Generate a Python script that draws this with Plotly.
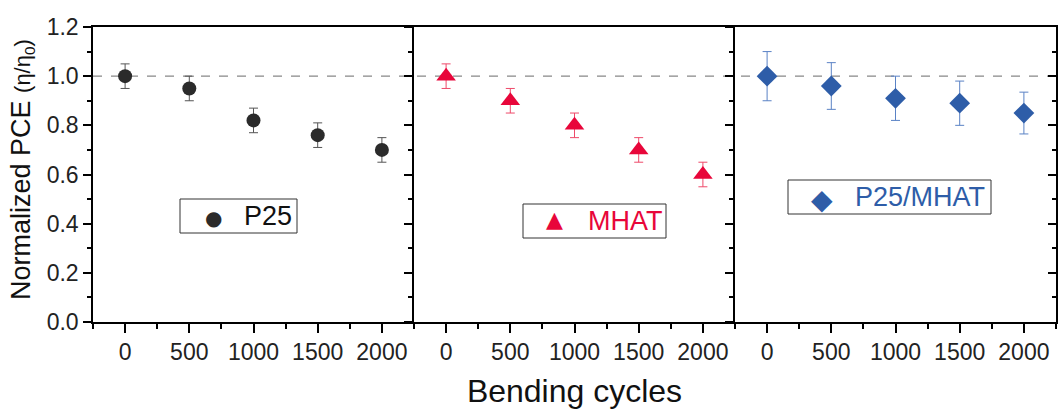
import plotly.graph_objects as go
from plotly.subplots import make_subplots

cycles = [0, 500, 1000, 1500, 2000]

p25_vals = [1.00, 0.95, 0.82, 0.76, 0.70]
p25_err = [0.05, 0.05, 0.05, 0.05, 0.05]

mhat_vals = [1.00, 0.90, 0.80, 0.70, 0.60]
mhat_err = [0.05, 0.05, 0.05, 0.05, 0.05]

mix_vals = [1.00, 0.96, 0.91, 0.89, 0.85]
mix_err = [0.10, 0.095, 0.09, 0.09, 0.085]

series_names = ["P25", "MHAT", "P25/MHAT"]
series_colors = ["#2b2b2b", "#E8063A", "#2E5DA8"]
legend_glyphs = ["●", "▲", "◆"]

x_ticks = [0, 500, 1000, 1500, 2000]
y_ticks = [0.0, 0.2, 0.4, 0.6, 0.8, 1.0, 1.2]

FONT = "Liberation Sans, Arial, sans-serif"

W, H = 1059, 411
ML, MR, MT, MB = 93, 3, 27, 89
PW, PH = W - ML - MR, H - MT - MB


def px_x(px):
    return (px - ML) / PW


def px_y(py):
    return (H - MB - py) / PH


fig = make_subplots(rows=1, cols=3, horizontal_spacing=0, shared_yaxes=False)

fig.add_trace(go.Scatter(
    x=cycles, y=p25_vals, mode="markers", name=series_names[0], showlegend=False,
    marker=dict(symbol="circle", size=14, color=series_colors[0]),
    error_y=dict(type="data", array=p25_err, color="#555555", thickness=1, width=4.5)),
    row=1, col=1)

fig.add_trace(go.Scatter(
    x=cycles, y=mhat_vals, mode="markers", name=series_names[1], showlegend=False,
    marker=dict(symbol="triangle-up", size=17, color=series_colors[1]),
    error_y=dict(type="data", array=mhat_err, color="#EE4A6A", thickness=1, width=4.5)),
    row=1, col=2)

fig.add_trace(go.Scatter(
    x=cycles, y=mix_vals, mode="markers", name=series_names[2], showlegend=False,
    marker=dict(symbol="diamond", size=16, color=series_colors[2]),
    error_y=dict(type="data", array=mix_err, color="#5A82C5", thickness=1, width=4.5)),
    row=1, col=3)

# trace for the right-side inside ticks of the last panel
fig.add_trace(go.Scatter(x=[None], y=[None], yaxis="y4", xaxis="x3", showlegend=False, hoverinfo="skip"))

for i in range(1, 4):
    fig.update_xaxes(
        range=[-250, 2250], tickmode="array", tickvals=x_ticks,
        ticks="outside", ticklen=9, tickwidth=1.5, tickcolor="black",
        minor=dict(tickmode="linear", tick0=-250, dtick=250, ticks="outside", ticklen=5, tickwidth=1.5, tickcolor="black"),
        showline=True, linecolor="black", linewidth=1.5, mirror=True,
        showgrid=False, zeroline=False, automargin=False,
        tickfont=dict(family=FONT, size=23, color="#222222"),
        row=1, col=i)
    fig.update_yaxes(
        range=[0, 1.2], tickmode="array", tickvals=y_ticks, tickformat=".1f",
        ticks="outside", ticklen=8, tickwidth=1.5, tickcolor="black",
        minor=dict(tickmode="linear", tick0=0, dtick=0.1, ticks="outside", ticklen=4, tickwidth=1.5, tickcolor="black"),
        showline=True, linecolor="black", linewidth=1.5, mirror=(i == 3),
        showgrid=False, zeroline=False, showticklabels=(i == 1), automargin=False,
        tickfont=dict(family=FONT, size=23, color="#222222"),
        row=1, col=i)

fig.update_layout(
    yaxis4=dict(
        overlaying="y3", anchor="x3", side="right", range=[0, 1.2],
        tickmode="array", tickvals=y_ticks, ticks="inside", ticklen=8, tickwidth=1.5, tickcolor="black",
        minor=dict(tickmode="linear", tick0=0, dtick=0.1, ticks="inside", ticklen=4, tickwidth=1.5, tickcolor="black"),
        showticklabels=False, showgrid=False, zeroline=False, showline=False, automargin=False),
)

fig.update_xaxes(title_text="Bending cycles", title_font=dict(family=FONT, size=32, color="#111111"),
                 row=1, col=2)

# y-axis title as a rotated annotation for exact placement
fig.add_annotation(xref="paper", yref="paper", x=px_x(22), y=px_y(170),
                   xanchor="center", yanchor="middle", showarrow=False, textangle=-90,
                   text="Normalized PCE <span style='font-size:22px'>(η/η<sub>0</sub>)</span>",
                   font=dict(family=FONT, size=27, color="#111111"))

fig.add_shape(type="line", xref="paper", yref="y", x0=0, x1=1, y0=1.0, y1=1.0,
              line=dict(color="#888888", width=1.2, dash="dash"), layer="below")

# legend boxes (pixel layout): box left, top, right, bottom, glyph center x, glyph center y, text left, glyph size
legend_boxes = [
    (180, 199, 297, 233, 213, 218, 242, 20),
    (523, 204, 666, 238, 554, 219, 586, 22),
    (788, 180, 991, 214, 822, 199, 853, 28),
]
for (bx0, by0, bx1, by1, gx, gy, tx, gs), name, col, glyph in zip(legend_boxes, series_names, series_colors, legend_glyphs):
    fig.add_shape(type="rect", xref="paper", yref="paper",
                  x0=px_x(bx0), x1=px_x(bx1), y0=px_y(by1), y1=px_y(by0),
                  line=dict(color="#333333", width=1), fillcolor="white", layer="above")
    fig.add_annotation(xref="paper", yref="paper", x=px_x(gx), y=px_y(gy),
                       xanchor="center", yanchor="middle", showarrow=False,
                       text=glyph, font=dict(family="DejaVu Sans", size=gs, color=col))
    fig.add_annotation(xref="paper", yref="paper", x=px_x(tx), y=px_y((by0 + by1) / 2),
                       xanchor="left", yanchor="middle", showarrow=False,
                       text=name, font=dict(family=FONT, size=27, color=col if name != "P25" else "#111111"))

fig.update_layout(
    width=W, height=H,
    margin=dict(l=ML, r=MR, t=MT, b=MB),
    paper_bgcolor="white", plot_bgcolor="white",
    font=dict(family=FONT, color="#111111"),
    showlegend=False,
)

fig.write_html("out.html", config={"displayModeBar": False},
               post_script="document.body.style.margin='0';document.body.style.overflow='hidden';")
